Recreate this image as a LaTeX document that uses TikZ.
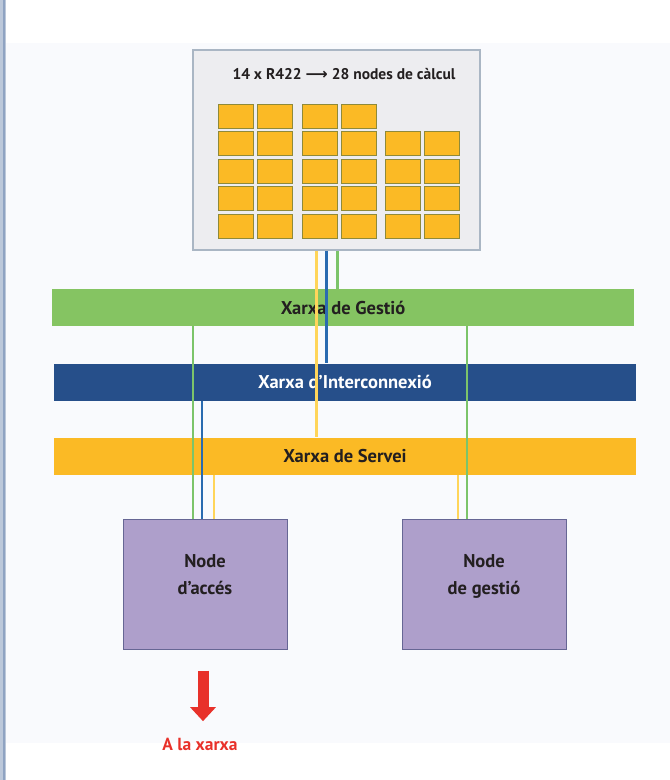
\documentclass[tikz,border=0pt]{standalone}
\usepackage{fontspec}
\setmainfont{PT Sans}
\newfontfamily\arrowfont{DejaVu Sans}
\usepackage{tikz}
\usetikzlibrary{arrows.meta, positioning}
\definecolor{gestio}{HTML}{85C462}
\definecolor{interc}{HTML}{264F8A}
\definecolor{servei}{HTML}{FBBA25}
\definecolor{gline}{HTML}{7CC46A}
\definecolor{bline}{HTML}{2A6BB0}
\definecolor{yline}{HTML}{FFD55A}
\definecolor{lilac}{HTML}{AE9FCB}
\definecolor{boxgray}{HTML}{EDEDF0}
\definecolor{framegray}{HTML}{AAB6C4}
\definecolor{ink}{HTML}{231F20}
\definecolor{alert}{HTML}{E8312A}
\definecolor{panel}{HTML}{F9FAFD}
\definecolor{rule}{HTML}{8FA3C2}

\begin{document}
\begin{tikzpicture}[x=1pt, y=-1pt, font=\bfseries]
    \tikzstyle{bar} = [rectangle, minimum width=582pt, minimum height=37pt, inner sep=0pt, font=\bfseries\fontsize{18.5}{20}\selectfont]
    \tikzstyle{cpu} = [rectangle, draw=olive!60!gray, line width=0.8pt, fill=servei, minimum width=35pt, minimum height=24pt, inner sep=0pt]
    \tikzstyle{machine} = [rectangle, draw=black!70!blue!60, line width=1pt, fill=lilac, minimum width=164pt, minimum height=130pt, align=center, font=\bfseries\fontsize{18.5}{27}\selectfont, text=ink]
    \tikzstyle{link} = [line width=2.2pt]

    \useasboundingbox (0,0) rectangle (670,780);
    \fill[panel] (6,43) rectangle (670,743);
    \fill[rule!60] (0,0) rectangle (6,780);
    \draw[rule, line width=2pt] (4,0) -- (4,780);

    % cluster with compute nodes
    \node (cluster) [rectangle, draw=framegray, line width=1.5pt, fill=boxgray, minimum width=287pt, minimum height=200pt] at (336.5,150) {};
    \node (title) [font=\bfseries\fontsize{15.5}{17}\selectfont, text=ink] at (344,74) {14 x R422 {\arrowfont ⟶} 28 nodes de càlcul};
    \foreach \x [count=\c] in {235.5, 275, 320, 359, 403, 441.5} {
        \foreach \r in {1,...,5} {
            \ifnum\c>4 \ifnum\r=1 \else
                \node (cpu-\c-\r) [cpu] at (\x, 116+27.5*\r-27.5) {};
            \fi \else
                \node (cpu-\c-\r) [cpu] at (\x, 116+27.5*\r-27.5) {};
            \fi
        }
    }

    % networks
    \node (xgestio) [bar, fill=gestio, text=ink] at (343,307.5) {Xarxa de Gestió};
    \node (xinterc) [bar, fill=interc, text=white] at (345,382) {Xarxa d’Interconnexió};
    \node (xservei) [bar, fill=servei, text=ink] at (345,456) {Xarxa de Servei};

    % machines
    \node (acces) [machine] at (205,584) {Node\\d’accés\\[-8pt]\mbox{}};
    \node (gestnode) [machine] at (484,584) {Node\\de gestió\\[-8pt]\mbox{}};
    \node (toxarxa) [text=alert, font=\bfseries\fontsize{17.5}{19}\selectfont] at (200,744) {A la xarxa};

    % cluster links
    \draw [link, yline] ([xshift=-20pt]cluster.south) -- ([xshift=-20pt]cluster.south |- xservei.north);
    \draw [link, bline] ([xshift=-10pt]cluster.south) -- ([xshift=-10pt]cluster.south |- xinterc.north);
    \draw [link, gline] ([xshift=1pt]cluster.south) -- ([xshift=1pt]cluster.south |- xgestio.north);

    % access node links
    \draw [link, gline] ([xshift=-12pt]acces.north |- xgestio.south) -- ([xshift=-12pt]acces.north);
    \draw [link, bline] ([xshift=-3pt]acces.north |- xinterc.south) -- ([xshift=-3pt]acces.north);
    \draw [link, yline] ([xshift=9pt]acces.north |- xservei.south) -- ([xshift=9pt]acces.north);

    % management node links
    \draw [link, gline] ([xshift=-17pt]gestnode.north |- xgestio.south) -- ([xshift=-17pt]gestnode.north);
    \draw [link, yline] ([xshift=-26pt]gestnode.north |- xservei.south) -- ([xshift=-26pt]gestnode.north);

    \draw [alert, line width=11pt, -{Triangle[width=25pt, length=14pt]}] ([xshift=-2pt, yshift=-21pt]acces.south) -- ([xshift=3pt, yshift=13pt]toxarxa.north);
\end{tikzpicture}
\end{document}
